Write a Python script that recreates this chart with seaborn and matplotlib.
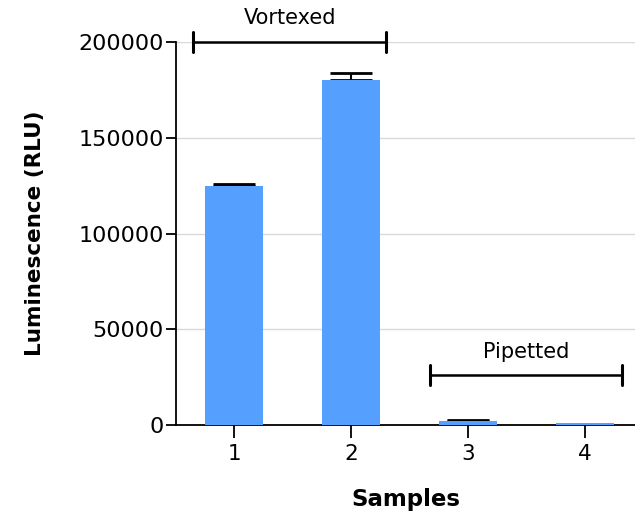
import matplotlib
matplotlib.use("Agg")
import matplotlib.pyplot as plt
import seaborn as sns
import pandas as pd

# Luminescence readings per sample (mean and upper error)
samples = ["1", "2", "3", "4"]
means = [125000, 180000, 2100, 800]
errors = [600, 3800, 700, 0]

y_ticks = [0, 50000, 100000, 150000, 200000]

sns.set_theme(style="white")
plt.rcParams["font.family"] = ["DejaVu Sans"]
plt.rcParams.update({
    "text.color": "black",
    "axes.labelcolor": "black",
    "xtick.color": "black",
    "ytick.color": "black",
})

df = pd.DataFrame({"Sample": samples, "RLU": means})

fig = plt.figure(figsize=(6.35, 5.15), dpi=100)
ax = fig.add_axes([0.2775, 0.1748, 0.7225, 0.7436])

sns.barplot(data=df, x="Sample", y="RLU", color="#55A0FF", saturation=1,
            width=0.5, errorbar=None, linewidth=0, ax=ax, zorder=3)

# one-sided (upper) error bars, only where a spread exists
xs = [i for i, e in enumerate(errors) if e > 0]
ys = [means[i] for i in xs]
es = [errors[i] for i in xs]
ax.errorbar(xs, ys, yerr=[[0] * len(es), es], fmt="none",
            ecolor="black", elinewidth=1.5, capsize=15, capthick=2, zorder=2)

ax.set_ylim(0, 200000)
ax.set_xlim(-0.495, 3.43)
ax.set_yticks(y_ticks)
ax.set_yticklabels([str(v) for v in y_ticks])
ax.yaxis.grid(True, color="#d9d9d9", linewidth=1)
ax.set_axisbelow(True)

for side in ["top", "right"]:
    ax.spines[side].set_visible(False)
for side in ["left", "bottom"]:
    ax.spines[side].set_color("black")
    ax.spines[side].set_linewidth(1.3)

ax.tick_params(axis="y", direction="out", length=7, width=1.3,
               labelsize=16, pad=2, left=True)
ax.tick_params(axis="x", direction="out", length=9, width=1.3,
               labelsize=15.5, pad=5, bottom=True)

ax.set_xlabel("Samples", fontsize=16.5, fontweight="bold", labelpad=17)
ax.set_ylabel("Luminescence (RLU)", fontsize=15.5, fontweight="bold", labelpad=24)

# group brackets
def bracket(x0, x1, y, label, label_y):
    ax.plot([x0, x1], [y, y], color="black", lw=1.8, clip_on=False, zorder=4)
    h = 5300
    for xv in (x0, x1):
        ax.plot([xv, xv], [y - h, y + h], color="black", lw=2.2,
                clip_on=False, zorder=4)
    ax.text((x0 + x1) / 2, label_y, label, ha="center", va="center",
            fontsize=15, clip_on=False)

bracket(-0.35, 1.30, 200000, "Vortexed", 212500)
bracket(1.675, 3.32, 26100, "Pipetted", 38200)

fig.savefig("out.png", dpi=100)
